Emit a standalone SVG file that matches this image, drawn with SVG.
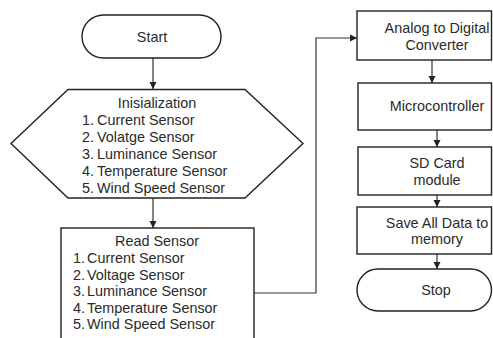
<svg xmlns="http://www.w3.org/2000/svg" width="493" height="338" viewBox="0 0 493 338">
<defs>
<marker id="ah" markerWidth="8" markerHeight="8" refX="7" refY="4" orient="auto" markerUnits="userSpaceOnUse">
<path d="M0,0.5 L7,4 L0,7.5 Z" fill="#222"/>
</marker>
<style>
.s{fill:#fff;stroke:#222;stroke-width:1.4}
.t{font-family:"Liberation Sans",Arial,sans-serif;font-size:14.4px;fill:#2a2a2a}
.m{text-anchor:middle}
.c{fill:none;stroke:#333;stroke-width:1.2}
</style>
</defs>
<rect width="493" height="338" fill="#fff"/>
<g id="connectors">
<line class="c" x1="153" y1="58" x2="153" y2="89" marker-end="url(#ah)"/>
<line class="c" x1="153" y1="198" x2="153" y2="228" marker-end="url(#ah)"/>
<polyline class="c" points="254,293 316,293 316,38 357,38" marker-end="url(#ah)"/>
<line class="c" x1="432" y1="60" x2="432" y2="83" marker-end="url(#ah)"/>
<line class="c" x1="437" y1="130" x2="437" y2="147" marker-end="url(#ah)"/>
<line class="c" x1="437" y1="195" x2="437" y2="207" marker-end="url(#ah)"/>
<line class="c" x1="437" y1="254" x2="437" y2="269" marker-end="url(#ah)"/>
</g>
<g id="start">
<rect class="s" x="82" y="15" width="139" height="43" rx="21.5"/>
<text class="t m" x="152" y="42">Start</text>
</g>
<g id="init">
<polygon class="s" points="68,89.5 245,89.5 303,143.5 245,198 68,198 11,143.5"/>
<text class="t m" x="157" y="108">Inisialization</text>
<text class="t" x="82" y="125">1.</text><text class="t" x="97" y="125">Current Sensor</text>
<text class="t" x="82" y="142">2.</text><text class="t" x="97" y="142">Volatge Sensor</text>
<text class="t" x="82" y="159">3.</text><text class="t" x="97" y="159">Luminance Sensor</text>
<text class="t" x="82" y="176">4.</text><text class="t" x="97" y="176">Temperature Sensor</text>
<text class="t" x="82" y="193">5.</text><text class="t" x="97" y="193">Wind Speed Sensor</text>
</g>
<g id="read">
<rect class="s" x="61" y="228" width="193" height="120"/>
<text class="t m" x="157" y="246">Read Sensor</text>
<text class="t" x="73" y="263">1.</text><text class="t" x="87" y="263">Current Sensor</text>
<text class="t" x="73" y="280">2.</text><text class="t" x="87" y="280">Voltage Sensor</text>
<text class="t" x="73" y="296">3.</text><text class="t" x="87" y="296">Luminance Sensor</text>
<text class="t" x="73" y="313">4.</text><text class="t" x="87" y="313">Temperature Sensor</text>
<text class="t" x="73" y="329">5.</text><text class="t" x="87" y="329">Wind Speed Sensor</text>
</g>
<g id="adc">
<rect class="s" x="357" y="11" width="134.5" height="49"/>
<text class="t m" x="437" y="33">Analog to Digital</text>
<text class="t m" x="437" y="50">Converter</text>
</g>
<g id="mcu">
<rect class="s" x="358" y="83" width="133.5" height="47"/>
<text class="t m" x="437" y="111">Microcontroller</text>
</g>
<g id="sd">
<rect class="s" x="358" y="147" width="133.5" height="48"/>
<text class="t m" x="437" y="168">SD Card</text>
<text class="t m" x="437" y="185">module</text>
</g>
<g id="save">
<rect class="s" x="357" y="207" width="134.5" height="47"/>
<text class="t m" x="437" y="228">Save All Data to</text>
<text class="t m" x="437" y="244">memory</text>
</g>
<g id="stop">
<rect class="s" x="357" y="269" width="134.5" height="42" rx="21"/>
<text class="t m" x="436" y="295">Stop</text>
</g>
</svg>
